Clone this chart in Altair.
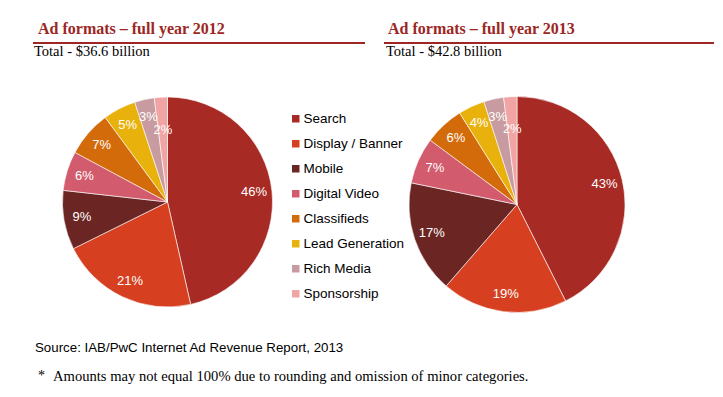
import altair as alt
import pandas as pd

categories = ["Search", "Display / Banner", "Mobile", "Digital Video",
              "Classifieds", "Lead Generation", "Rich Media", "Sponsorship"]
share_2012 = [46, 21, 9, 6, 7, 5, 3, 2]
share_2013 = [43, 19, 17, 7, 6, 4, 3, 2]
colors = ["#a82a25", "#d63f20", "#6b2522", "#d35b6e",
          "#d36b0a", "#e9b10c", "#c79b9f", "#f0a4a3"]

titles = ["Ad formats \u2013 full year 2012", "Ad formats \u2013 full year 2013"]
totals = ["Total - $36.6 billion", "Total - $42.8 billion"]
source_text = "Source: IAB/PwC Internet Ad Revenue Report, 2013"
footnote_text = "Amounts may not equal 100% due to rounding and omission of minor categories."

rows = []
for yr, vals in (("2012", share_2012), ("2013", share_2013)):
    for i, (c, v) in enumerate(zip(categories, vals)):
        rows.append({"year": yr, "cat": c, "idx": i, "value": v, "label": f"{v}%"})
df = pd.DataFrame(rows)

W, H = 707, 381
RED = "#9c2724"
SANS = "Liberation Sans"
SERIF = "Liberation Serif"

color = alt.Color(
    "cat:N",
    sort=categories,
    scale=alt.Scale(domain=categories, range=colors),
    legend=alt.Legend(
        title=None, orient="none", legendX=281, legendY=104,
        symbolType="square", symbolSize=56, symbolStrokeWidth=0,
        labelFont=SANS, labelFontSize=13.5, labelColor="black",
        rowPadding=10, labelOffset=1, symbolOpacity=1,
    ),
)


def pie(year, cx, cy, r, lr, lr_small):
    base = alt.Chart(df).transform_filter(alt.datum.year == year)
    arc = base.mark_arc(outerRadius=r, stroke="white", strokeWidth=0.6).encode(
        theta=alt.Theta("value:Q", stack="normalize"),
        color=color, order=alt.Order("idx:Q"),
        x=alt.value(cx), y=alt.value(cy),
    )
    txt = base.transform_joinaggregate(
        total="sum(value)"
    ).transform_window(
        cum="sum(value)", sort=[alt.SortField("idx")],
        frame=[None, 0],
    ).transform_calculate(
        mid="(datum.cum - datum.value / 2) / datum.total * 2 * PI",
        lr=f"datum.value <= 2 ? {lr_small} : {lr}",
    ).mark_text(font=SANS, fontSize=13, color="white").encode(
        theta=alt.Theta("mid:Q", scale=None, stack=None),
        radius=alt.Radius("lr:Q", scale=None, stack=None),
        text="label:N",
        x=alt.value(cx), y=alt.value(cy),
    )
    return [arc, txt]


def text_layer(t, x, y, font, size, col, weight="normal"):
    return alt.Chart(pd.DataFrame({"t": [t]})).mark_text(
        font=font, fontSize=size, color=col, fontWeight=weight,
        align="left", baseline="middle",
    ).encode(text="t:N", x=alt.value(x), y=alt.value(y))


def rule(x1, x2, y):
    return alt.Chart(pd.DataFrame({"a": [0]})).mark_rule(
        color=RED, strokeWidth=2
    ).encode(x=alt.value(x1), x2=alt.value(x2), y=alt.value(y))


layers = []
layers += pie("2012", 159.5, 194, 105, 87, 72)
layers += pie("2013", 509, 196.5, 108, 90, 76)
layers += [
    text_layer(titles[0], 30, 21, SERIF, 16, RED, "bold"),
    text_layer(titles[1], 380, 21, SERIF, 16, RED, "bold"),
    rule(25, 357, 35),
    rule(376, 706, 35),
    text_layer(totals[0], 26, 44, SERIF, 14.5, "black"),
    text_layer(totals[1], 378, 44, SERIF, 14.5, "black"),
    text_layer(source_text, 27, 340, SANS, 13.3, "black"),
    text_layer("*", 30, 368, SERIF, 14, "black"),
    text_layer(footnote_text, 45, 369, SERIF, 14.6, "black"),
]

chart = alt.layer(*layers).properties(
    width=W, height=H, autosize="none", padding=0
).configure_view(stroke=None)

chart.save("out.html", embed_options={"renderer": "svg", "actions": False})
